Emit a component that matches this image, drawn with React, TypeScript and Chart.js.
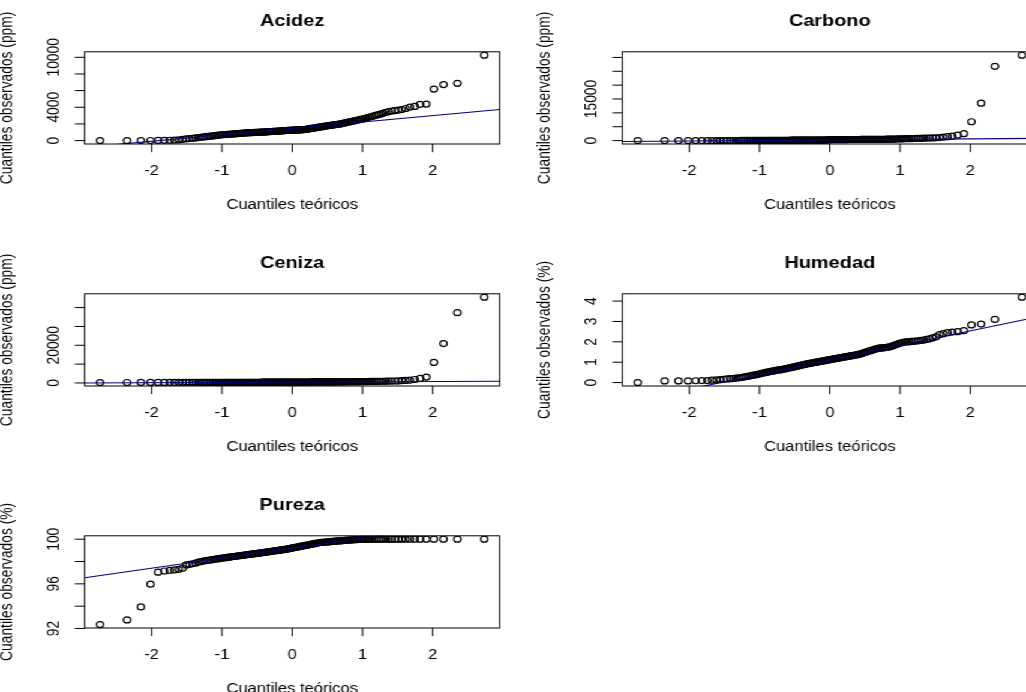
import React, { useEffect, useRef } from "react";
import { Chart, registerables } from "chart.js";
Chart.register(...registerables);

const acidezObs = [
  0, 0, 0, 10, 20, 30, 40, 60, 90, 150,
  200, 240, 280, 320, 360, 400, 440, 470, 500, 530,
  560, 590, 620, 650, 680, 700, 715, 730, 745, 760,
  775, 790, 805, 820, 835, 850, 865, 880, 895, 910,
  920, 930, 935, 945, 950, 960, 965, 975, 980, 990,
  1000, 1005, 1015, 1020, 1030, 1040, 1045, 1055, 1060, 1070,
  1080, 1090, 1095, 1105, 1110, 1120, 1130, 1140, 1150, 1160,
  1170, 1180, 1190, 1200, 1210, 1220, 1225, 1235, 1240, 1250,
  1260, 1265, 1270, 1275, 1280, 1285, 1290, 1295, 1300, 1310,
  1320, 1330, 1350, 1370, 1395, 1420, 1440, 1465, 1490, 1510,
  1535, 1560, 1580, 1605, 1630, 1650, 1675, 1700, 1720, 1745,
  1770, 1790, 1815, 1840, 1860, 1885, 1910, 1930, 1950, 1970,
  2000, 2040, 2080, 2120, 2160, 2200, 2240, 2280, 2320, 2360,
  2400, 2440, 2490, 2540, 2590, 2640, 2700, 2760, 2820, 2900,
  2980, 3050, 3120, 3200, 3300, 3400, 3480, 3550, 3600, 3650,
  3730, 3850, 4020, 4100, 4350, 4380, 6190, 6720, 6880, 10250,
];

const carbonoObs = [
  0, 0, 0, 0, 0, 0, 10, 10, 10, 10,
  20, 20, 20, 30, 30, 30, 40, 40, 40, 50,
  50, 50, 60, 60, 60, 70, 70, 70, 80, 80,
  80, 90, 90, 90, 100, 100, 100, 100, 110, 110,
  110, 110, 120, 120, 120, 120, 130, 130, 130, 130,
  140, 140, 140, 140, 150, 150, 150, 150, 160, 160,
  160, 170, 170, 170, 180, 180, 180, 190, 190, 190,
  200, 200, 200, 210, 210, 220, 220, 230, 300, 340,
  350, 350, 355, 355, 360, 360, 360, 365, 365, 370,
  370, 370, 375, 375, 380, 380, 380, 385, 385, 390,
  390, 390, 395, 395, 400, 400, 400, 405, 405, 410,
  410, 410, 415, 415, 420, 420, 425, 425, 430, 430,
  440, 450, 460, 470, 480, 490, 500, 510, 520, 530,
  540, 560, 580, 600, 620, 640, 660, 680, 700, 720,
  740, 760, 780, 800, 830, 860, 890, 920, 960, 1000,
  1100, 1250, 1400, 1600, 2000, 2500, 6800, 13500, 26800, 30800,
];

const cenizaObs = [
  200, 250, 280, 300, 300, 310, 320, 330, 335, 340,
  340, 340, 342, 344, 345, 346, 347, 348, 349, 350,
  350, 350, 351, 352, 352, 353, 354, 354, 355, 355,
  356, 356, 357, 357, 358, 358, 359, 359, 360, 360,
  362, 364, 366, 368, 370, 372, 374, 376, 378, 380,
  383, 386, 389, 392, 395, 398, 401, 404, 407, 410,
  413, 416, 419, 422, 425, 428, 431, 434, 437, 440,
  443, 446, 449, 452, 455, 458, 461, 464, 467, 470,
  473, 476, 479, 482, 485, 488, 491, 494, 497, 500,
  503, 506, 509, 512, 515, 518, 521, 524, 527, 530,
  533, 536, 539, 542, 545, 548, 551, 554, 557, 560,
  563, 566, 569, 572, 575, 578, 580, 582, 584, 586,
  590, 595, 600, 605, 610, 620, 630, 640, 650, 660,
  670, 680, 690, 700, 720, 740, 760, 780, 800, 820,
  840, 860, 880, 900, 920, 950, 980, 1010, 1050, 1100,
  1200, 1350, 1550, 1850, 2400, 3100, 10900, 20900, 37300, 45500,
];

const humedadObs = [
  0.0, 0.08, 0.08, 0.08, 0.09, 0.1, 0.1, 0.12, 0.13, 0.15,
  0.16, 0.18, 0.19, 0.2, 0.22, 0.23, 0.25, 0.27, 0.29, 0.31,
  0.33, 0.35, 0.37, 0.39, 0.41, 0.43, 0.45, 0.47, 0.49, 0.51,
  0.52, 0.54, 0.55, 0.57, 0.58, 0.6, 0.61, 0.62, 0.63, 0.64,
  0.65, 0.67, 0.68, 0.7, 0.71, 0.72, 0.74, 0.75, 0.77, 0.78,
  0.8, 0.81, 0.82, 0.84, 0.85, 0.86, 0.88, 0.89, 0.9, 0.92,
  0.93, 0.94, 0.95, 0.96, 0.97, 0.98, 0.99, 1.0, 1.01, 1.02,
  1.03, 1.04, 1.05, 1.06, 1.07, 1.08, 1.09, 1.1, 1.11, 1.12,
  1.13, 1.14, 1.15, 1.16, 1.17, 1.18, 1.19, 1.2, 1.21, 1.22,
  1.23, 1.24, 1.25, 1.26, 1.27, 1.28, 1.29, 1.3, 1.31, 1.32,
  1.33, 1.34, 1.35, 1.36, 1.37, 1.38, 1.4, 1.42, 1.44, 1.46,
  1.48, 1.5, 1.52, 1.54, 1.56, 1.58, 1.6, 1.62, 1.64, 1.66,
  1.68, 1.69, 1.7, 1.7, 1.71, 1.72, 1.73, 1.74, 1.76, 1.78,
  1.81, 1.84, 1.87, 1.9, 1.93, 1.96, 1.98, 2.0, 2.0, 2.01,
  2.02, 2.03, 2.04, 2.05, 2.07, 2.09, 2.12, 2.15, 2.19, 2.24,
  2.35, 2.4, 2.45, 2.48, 2.5, 2.55, 2.83, 2.87, 3.1, 4.19,
];

const purezaObs = [
  92.35, 92.77, 93.93, 95.97, 97.05, 97.15, 97.2, 97.25, 97.3, 97.4,
  97.7, 97.75, 97.8, 97.85, 97.95, 98.0, 98.04, 98.08, 98.11, 98.14,
  98.17, 98.2, 98.23, 98.26, 98.29, 98.31, 98.33, 98.35, 98.37, 98.39,
  98.41, 98.43, 98.45, 98.47, 98.49, 98.51, 98.53, 98.54, 98.56, 98.58,
  98.6, 98.61, 98.63, 98.64, 98.66, 98.67, 98.69, 98.7, 98.72, 98.73,
  98.75, 98.76, 98.78, 98.79, 98.81, 98.82, 98.84, 98.85, 98.87, 98.88,
  98.9, 98.91, 98.93, 98.94, 98.96, 98.97, 98.99, 99.0, 99.02, 99.03,
  99.05, 99.06, 99.08, 99.09, 99.11, 99.12, 99.14, 99.16, 99.18, 99.2,
  99.22, 99.24, 99.26, 99.28, 99.3, 99.32, 99.34, 99.36, 99.38, 99.4,
  99.42, 99.44, 99.46, 99.48, 99.5, 99.52, 99.54, 99.56, 99.58, 99.6,
  99.62, 99.64, 99.66, 99.68, 99.7, 99.71, 99.72, 99.73, 99.74, 99.75,
  99.76, 99.77, 99.78, 99.79, 99.8, 99.81, 99.82, 99.83, 99.84, 99.85,
  99.86, 99.87, 99.88, 99.89, 99.9, 99.91, 99.92, 99.93, 99.94, 99.95,
  99.96, 99.97, 99.98, 99.99, 100, 100, 100, 100, 100, 100,
  100, 100, 100, 100, 100, 100, 100, 100, 100, 100,
  100, 100, 100, 100, 100, 100, 100, 100, 100, 100,
];

const panelTitles = ["Acidez", "Carbono", "Ceniza", "Humedad", "Pureza"];
const yAxisTitles = [
  "Cuantiles observados (ppm)",
  "Cuantiles observados (ppm)",
  "Cuantiles observados (ppm)",
  "Cuantiles observados (%)",
  "Cuantiles observados (%)",
];
const xAxisTitle = "Cuantiles teóricos";
const xTickValues = [-2, -1, 0, 1, 2];

const acidezTicks = [0, 2000, 4000, 6000, 8000, 10000];
const acidezLabels = [0, 4000, 10000];
const carbonoTicks = [0, 5000, 10000, 15000, 20000, 25000, 30000];
const carbonoLabels = [0, 15000];
const cenizaTicks = [0, 10000, 20000, 30000, 40000];
const cenizaLabels = [0, 20000];
const humedadTicks = [0, 1, 2, 3, 4];
const humedadLabels = [0, 1, 2, 3, 4];
const purezaTicks = [92, 94, 96, 98, 100];
const purezaLabels = [92, 96, 100];

// reference lines (qqline): intercept, slope
const qqIntercepts = [1460, 250, 465, 1.11, 99.2];
const qqSlopes = [770, 190, 158, 0.715, 0.9];

const observed = [acidezObs, carbonoObs, cenizaObs, humedadObs, purezaObs];
const yTicksAll = [acidezTicks, carbonoTicks, cenizaTicks, humedadTicks, purezaTicks];
const yLabelsAll = [acidezLabels, carbonoLabels, cenizaLabels, humedadLabels, purezaLabels];

// ---------- helpers ----------
function qnorm(p: number): number {
  const a = [-3.969683028665376e1, 2.209460984245205e2, -2.759285104469687e2, 1.38357751867269e2, -3.066479806614716e1, 2.506628277459239];
  const b = [-5.447609879822406e1, 1.615858368580409e2, -1.556989798598866e2, 6.680131188771972e1, -1.328068155288572e1];
  const c = [-7.784894002430293e-3, -3.223964580411365e-1, -2.400758277161838, -2.549732539343734, 4.374664141464968, 2.938163982698783];
  const d = [7.784695709041462e-3, 3.224671290700398e-1, 2.445134137142996, 3.754408661907416];
  const pl = 0.02425;
  if (p < pl) {
    const q = Math.sqrt(-2 * Math.log(p));
    return (((((c[0] * q + c[1]) * q + c[2]) * q + c[3]) * q + c[4]) * q + c[5]) / ((((d[0] * q + d[1]) * q + d[2]) * q + d[3]) * q + 1);
  }
  if (p > 1 - pl) {
    const q = Math.sqrt(-2 * Math.log(1 - p));
    return -(((((c[0] * q + c[1]) * q + c[2]) * q + c[3]) * q + c[4]) * q + c[5]) / ((((d[0] * q + d[1]) * q + d[2]) * q + d[3]) * q + 1);
  }
  const q = p - 0.5;
  const r = q * q;
  return ((((((a[0] * r + a[1]) * r + a[2]) * r + a[3]) * r + a[4]) * r + a[5]) * q) / (((((b[0] * r + b[1]) * r + b[2]) * r + b[3]) * r + b[4]) * r + 1);
}

function theoretical(n: number): number[] {
  const out: number[] = [];
  for (let i = 1; i <= n; i++) out.push(qnorm((i - 0.5) / n));
  return out;
}

function rRange(vals: number[]): [number, number] {
  const lo = Math.min(...vals);
  const hi = Math.max(...vals);
  const ext = (hi - lo) * 0.04;
  return [lo - ext, hi + ext];
}

const FONT = '"Liberation Sans", Arial, Helvetica, sans-serif';
const LABEL_PX = 13.8;
const TITLE_PX = 16.6;
const TICK = 8.2;

// canvas geometry (unstretched units)
const CW = 460;
const CH = 242;
const PAD = { left: 78.6, right: 35.6, top: 66.8, bottom: 83 };
const colLeft = [-7.8, 439.7];
const rowTop = [-15.5, 226.85, 469.2];

function Panel({ idx }: { idx: number }) {
  const ref = useRef<HTMLCanvasElement | null>(null);
  useEffect(() => {
    const canvas = ref.current;
    if (!canvas) return;
    const obs = observed[idx];
    const xs = theoretical(obs.length);
    const [xMin, xMax] = rRange(xs);
    const [yMin, yMax] = rRange(obs);
    const pts = obs.map((v, i) => ({ x: xs[i], y: v }));
    const a = qqIntercepts[idx];
    const b = qqSlopes[idx];
    const lineData = [
      { x: xMin, y: a + b * xMin },
      { x: xMax, y: a + b * xMax },
    ];
    const yTicks = yTicksAll[idx];
    const yLabels = yLabelsAll[idx];

    const frame = {
      id: "rframe",
      afterDraw(chart: any) {
        const ctx = chart.ctx as CanvasRenderingContext2D;
        const ca = chart.chartArea;
        const sx = chart.scales.x;
        const sy = chart.scales.y;
        ctx.save();
        ctx.strokeStyle = "#000";
        ctx.fillStyle = "#000";
        ctx.lineWidth = 1;
        ctx.strokeRect(ca.left, ca.top, ca.right - ca.left, ca.bottom - ca.top);
        ctx.beginPath();
        for (const v of xTickValues) {
          const px = sx.getPixelForValue(v);
          ctx.moveTo(px, ca.bottom);
          ctx.lineTo(px, ca.bottom + TICK);
        }
        for (const v of yTicks) {
          const py = sy.getPixelForValue(v);
          ctx.moveTo(ca.left - TICK, py);
          ctx.lineTo(ca.left, py);
        }
        ctx.stroke();

        ctx.font = `${LABEL_PX}px ${FONT}`;
        ctx.textAlign = "center";
        ctx.textBaseline = "alphabetic";
        for (const v of xTickValues) {
          ctx.fillText(String(v), sx.getPixelForValue(v), ca.bottom + 30.5);
        }
        for (const v of yLabels) {
          const py = sy.getPixelForValue(v);
          ctx.save();
          ctx.translate(ca.left - 21.5, py);
          ctx.rotate(-Math.PI / 2);
          ctx.fillText(String(v), 0, 0);
          ctx.restore();
        }
        const cx = (ca.left + ca.right) / 2;
        const cy = (ca.top + ca.bottom) / 2;
        ctx.fillText(xAxisTitle, cx, ca.bottom + 64.5);
        ctx.save();
        ctx.translate(ca.left - 60.4, cy);
        ctx.rotate(-Math.PI / 2);
        ctx.fillText(yAxisTitles[idx], 0, 0);
        ctx.restore();

        ctx.font = `bold ${TITLE_PX}px ${FONT}`;
        ctx.fillText(panelTitles[idx], cx, ca.top - 25.6);
        ctx.restore();
      },
    };

    const chart = new Chart(canvas, {
      type: "scatter",
      data: {
        datasets: [
          {
            type: "line",
            data: lineData,
            borderColor: "#000080",
            borderWidth: 1.1,
            pointRadius: 0,
            fill: false,
            tension: 0,
            order: 0,
          } as any,
          {
            type: "scatter",
            data: pts,
            pointStyle: "circle",
            pointRadius: 3,
            pointBorderWidth: 1.2,
            borderWidth: 1.2,
            borderColor: "#000",
            pointBorderColor: "#000",
            backgroundColor: "rgba(0,0,0,0)",
            pointBackgroundColor: "rgba(0,0,0,0)",
            order: 1,
          } as any,
        ],
      },
      options: {
        animation: false,
        responsive: false,
        devicePixelRatio: 1,
        events: [],
        layout: { padding: PAD },
        plugins: { legend: { display: false }, tooltip: { enabled: false }, title: { display: false } },
        scales: {
          x: { type: "linear", display: false, min: xMin, max: xMax },
          y: { type: "linear", display: false, min: yMin, max: yMax },
        },
      } as any,
      plugins: [frame as any],
    });
    return () => chart.destroy();
  }, [idx]);

  const col = idx % 2;
  const row = Math.floor(idx / 2);
  return (
    <canvas
      ref={ref}
      width={CW}
      height={CH}
      style={{ position: "absolute", left: colLeft[col], top: rowTop[row], width: CW, height: CH }}
    />
  );
}

export default function App() {
  return (
    <div style={{ position: "fixed", left: 0, top: 0, width: 1026, height: 692, overflow: "hidden", background: "#fff" }}>
      <div
        style={{
          position: "absolute",
          left: 0,
          top: 0,
          width: 855,
          height: 692,
          transform: "scaleX(1.2)",
          transformOrigin: "0 0",
        }}
      >
        {panelTitles.map((_, i) => (
          <Panel key={i} idx={i} />
        ))}
      </div>
    </div>
  );
}
